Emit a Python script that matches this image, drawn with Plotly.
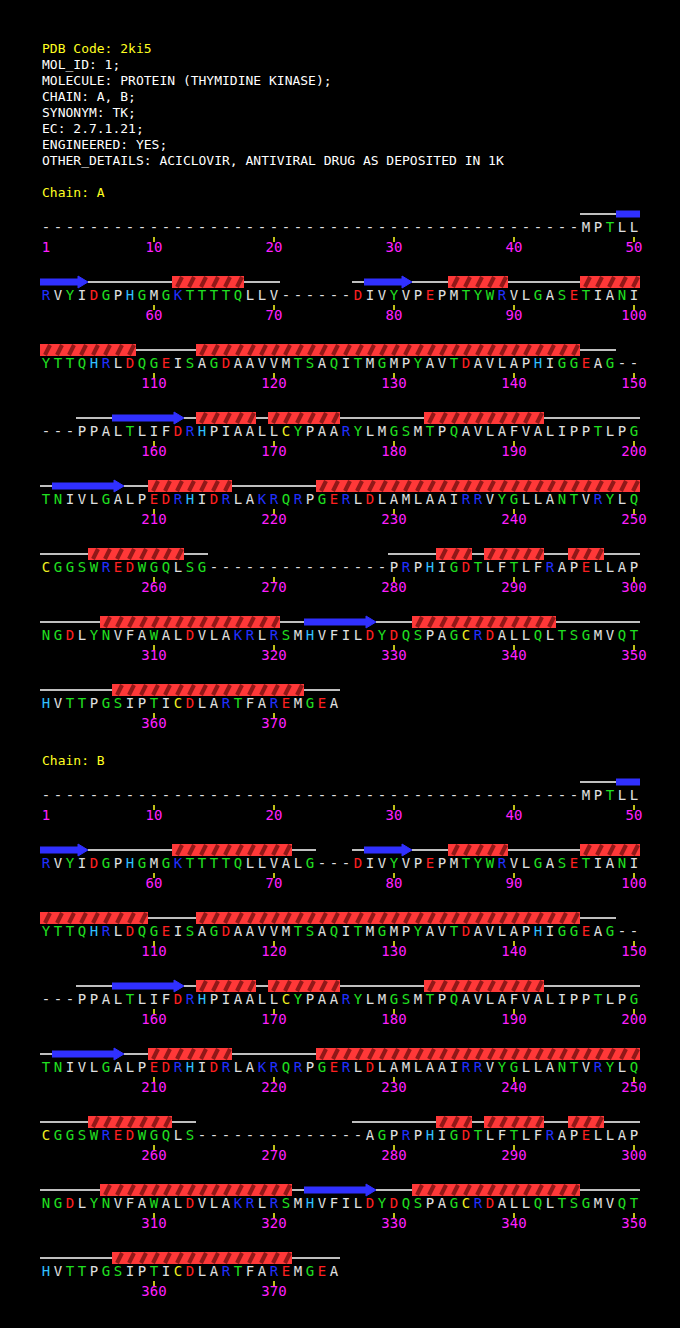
import plotly.graph_objects as go

header = ["PDB Code: 2ki5", "MOL_ID: 1;", "MOLECULE: PROTEIN (THYMIDINE KINASE);", "CHAIN: A, B;",
          "SYNONYM: TK;", "EC: 2.7.1.21;", "ENGINEERED: YES;",
          "OTHER_DETAILS: ACICLOVIR, ANTIVIRAL DRUG AS DEPOSITED IN 1K"]

seq_a = ("-" * 45 + "MPTLL"
         "RVYIDGPHGMGKTTTTQLLV------DIVYVPEPMTYWRVLGASETIANI"
         "YTTQHRLDQGEISAGDAAVVMTSAQITMGMPYAVTDAVLAPHIGGEAG--"
         "---PPALTLIFDRHPIAALLCYPAARYLMGSMTPQAVLAFVALIPPTLPG"
         "TNIVLGALPEDRHIDRLAKRQRPGERLDLAMLAAIRRVYGLLANTVRYLQ"
         "CGGSWREDWGQLSG---------------PRPHIGDTLFTLFRAPELLAP"
         "NGDLYNVFAWALDVLAKRLRSMHVFILDYDQSPAGCRDALLQLTSGMVQT"
         "HVTTPGSIPTICDLARTFAREMGEA")
seq_b = ("-" * 45 + "MPTLL"
         "RVYIDGPHGMGKTTTTQLLVALG---DIVYVPEPMTYWRVLGASETIANI"
         "YTTQHRLDQGEISAGDAAVVMTSAQITMGMPYAVTDAVLAPHIGGEAG--"
         "---PPALTLIFDRHPIAALLCYPAARYLMGSMTPQAVLAFVALIPPTLPG"
         "TNIVLGALPEDRHIDRLAKRQRPGERLDLAMLAAIRRVYGLLANTVRYLQ"
         "CGGSWREDWGQLS--------------AGPRPHIGDTLFTLFRAPELLAP"
         "NGDLYNVFAWALDVLAKRLRSMHVFILDYDQSPAGCRDALLQLTSGMVQT"
         "HVTTPGSIPTICDLARTFAREMGEA")

# secondary structure: (start, end, type) C=coil, H=helix, E=strand
ss_a = [(46, 48, "C"), (49, 54, "E"), (55, 61, "C"), (62, 67, "H"), (68, 70, "C"),
        (77, 77, "C"), (78, 81, "E"), (82, 84, "C"), (85, 89, "H"), (90, 95, "C"),
        (96, 108, "H"), (109, 113, "C"), (114, 145, "H"), (146, 148, "C"),
        (154, 156, "C"), (157, 162, "E"), (163, 163, "C"), (164, 168, "H"), (169, 169, "C"),
        (170, 175, "H"), (176, 182, "C"), (183, 192, "H"), (193, 201, "C"),
        (202, 207, "E"), (208, 209, "C"), (210, 216, "H"), (217, 223, "C"), (224, 250, "H"),
        (251, 254, "C"), (255, 262, "H"), (263, 264, "C"), (280, 283, "C"), (284, 286, "H"),
        (287, 287, "C"), (288, 292, "H"), (293, 294, "C"), (295, 297, "H"), (298, 305, "C"),
        (306, 320, "H"), (321, 322, "C"), (323, 328, "E"), (329, 331, "C"), (332, 343, "H"),
        (344, 356, "C"), (357, 372, "H"), (373, 375, "C")]
ss_b = [(46, 48, "C"), (49, 54, "E"), (55, 61, "C"), (62, 71, "H"), (72, 73, "C"),
        (77, 77, "C"), (78, 81, "E"), (82, 84, "C"), (85, 89, "H"), (90, 95, "C"),
        (96, 109, "H"), (110, 113, "C"), (114, 145, "H"), (146, 148, "C"),
        (154, 156, "C"), (157, 162, "E"), (163, 163, "C"), (164, 168, "H"), (169, 169, "C"),
        (170, 175, "H"), (176, 182, "C"), (183, 192, "H"), (193, 201, "C"),
        (202, 207, "E"), (208, 209, "C"), (210, 216, "H"), (217, 223, "C"), (224, 250, "H"),
        (251, 254, "C"), (255, 261, "H"), (262, 263, "C"), (277, 283, "C"), (284, 286, "H"),
        (287, 287, "C"), (288, 292, "H"), (293, 294, "C"), (295, 297, "H"), (298, 305, "C"),
        (306, 321, "H"), (322, 322, "C"), (323, 328, "E"), (329, 331, "C"), (332, 345, "H"),
        (346, 356, "C"), (357, 371, "H"), (372, 375, "C")]

colors = {}
for c in "RK": colors[c] = "#2030ff"
colors["H"] = "#30c0ff"
for c in "DE": colors[c] = "#ff2020"
for c in "GSTNQYW": colors[c] = "#20e020"
colors["C"] = "#f0f020"

CW = 12


def pos(i):
    r = (i - 1) // 50
    c = (i - 1) % 50
    return 46 + CW * c, r


fig = go.Figure()
for k, line in enumerate(header):
    fig.add_annotation(x=40, y=48 + 16 * k, text=line, showarrow=False, xanchor="left",
                       font=dict(color="#ffff20" if k == 0 else "white", size=13))


def draw_chain(name, seq, ss, y0):
    fig.add_annotation(x=40, y=y0 - 36, text="Chain: " + name, showarrow=False, xanchor="left",
                       font=dict(color="#ffff20", size=13))
    xs, ys, cs, tx = [], [], [], []
    for i, ch in enumerate(seq, start=1):
        x, r = pos(i)
        xs.append(x); ys.append(y0 + 68 * r); tx.append(ch)
        cs.append(colors.get(ch, "#e0e0e0"))
    fig.add_trace(go.Scatter(x=xs, y=ys, mode="text", text=tx, textfont=dict(color=cs, size=14)))
    # numbering
    nx, ny, nt, kx, ky = [], [], [], [], []
    for n in [1] + list(range(10, len(seq) + 1, 10)):
        x, r = pos(n)
        nx.append(x); ny.append(y0 + 68 * r + 20); nt.append(str(n))
        if n != 1:
            kx += [x, x, None]; ky += [y0 + 68 * r + 9, y0 + 68 * r + 14, None]
    fig.add_trace(go.Scatter(x=nx, y=ny, mode="text", text=nt, textfont=dict(color="#ff20ff", size=14)))
    fig.add_trace(go.Scatter(x=kx, y=ky, mode="lines", line=dict(color="#ffff20", width=1.5)))
    # secondary structure
    cx, cy, ex, ey, hx, hy, sx, sy = [], [], [], [], [], [], [], []
    for s, e, t in ss:
        i = s
        while i <= e:
            x1, r = pos(i)
            j = min(e, (r + 1) * 50)
            x2, _ = pos(j)
            yy = y0 + 68 * r - 14
            if t == "C":
                cx += [x1 - 6, x2 + 6, None]; cy += [yy, yy, None]
            elif t == "E":
                ex += [x1 - 6, x2 + (-2 if j == e else 6), None]; ey += [yy, yy, None]
                if j == e:
                    fig.add_trace(go.Scatter(x=[x2 - 4, x2 + 6, x2 - 4, x2 - 4], y=[yy - 6, yy, yy + 6, yy - 6],
                                             mode="lines", fill="toself", fillcolor="#3030ff",
                                             line=dict(color="#3030ff", width=1)))
            else:
                hx += [x1 - 6, x2 + 6, None]; hy += [yy, yy, None]
                for k in range(i, j + 1):
                    xk, _ = pos(k)
                    sx += [xk - 1, xk + 4, None]; sy += [yy + 5, yy - 5, None]
            i = j + 1
    fig.add_trace(go.Scatter(x=cx, y=cy, mode="lines", line=dict(color="white", width=1.5)))
    fig.add_trace(go.Scatter(x=ex, y=ey, mode="lines", line=dict(color="#3030ff", width=7)))
    fig.add_trace(go.Scatter(x=hx, y=hy, mode="lines", line=dict(color="#ff3838", width=12)))
    fig.add_trace(go.Scatter(x=sx, y=sy, mode="lines", line=dict(color="#901818", width=4)))


draw_chain("A", seq_a, ss_a, 228)
draw_chain("B", seq_b, ss_b, 796)

fig.update_layout(width=680, height=1328, margin=dict(l=0, r=0, t=0, b=0),
                  paper_bgcolor="black", plot_bgcolor="black", showlegend=False,
                  font=dict(family="DejaVu Sans Mono"),
                  xaxis=dict(range=[0, 680], visible=False),
                  yaxis=dict(range=[1328, 0], visible=False))
fig.write_html("out.html", config={"displayModeBar": False},
               post_script="document.body.style.margin='0';document.body.style.background='black';")
